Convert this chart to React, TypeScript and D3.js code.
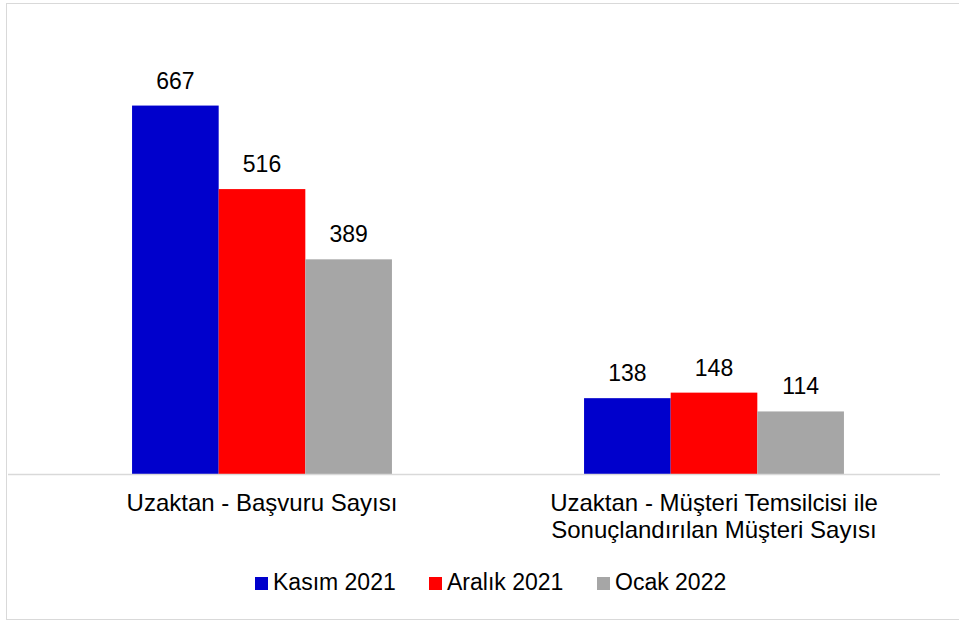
import React from "react";
import * as d3 from "d3";

const categories: string[][] = [
  ["Uzaktan - Başvuru Sayısı"],
  ["Uzaktan - Müşteri Temsilcisi ile", "Sonuçlandırılan Müşteri Sayısı"],
];
const seriesNames = ["Kasım 2021", "Aralık 2021", "Ocak 2022"];
const kasim2021 = [667, 138];
const aralik2021 = [516, 148];
const ocak2022 = [389, 114];
const seriesColors = ["#0000CC", "#FF0000", "#A6A6A6"];

const W = 959;
const H = 620;
const FONT = "'Liberation Sans', Arial, sans-serif";
const FS = 23;
const FS_CAT = 24;

export default function App() {
  const seriesValues = [kasim2021, aralik2021, ocak2022];
  const catKeys = categories.map((_, i) => String(i));
  const x0 = d3
    .scaleBand<string>()
    .domain(catKeys)
    .range([36, 940])
    .paddingInner(0.425)
    .paddingOuter(0.2125);
  const x1 = d3
    .scaleBand<string>()
    .domain(seriesNames)
    .range([0, x0.bandwidth()])
    .padding(0);
  const y = d3.scaleLinear().domain([0, 800]).range([474.5, 32]);

  const legendWidths = [124, 118, 115];
  const legendStart = 255;
  let acc = legendStart;
  const legendX = legendWidths.map((w) => {
    const xx = acc;
    acc += 13 + 5 + w + 32;
    return xx;
  });

  return (
    <div style={{ position: "absolute", left: 0, top: 0 }}>
      <svg width={W} height={H} style={{ display: "block", fontFamily: FONT }}>
        <rect x={0} y={0} width={W} height={H} fill="#fff" />
        <rect x={6.5} y={3.5} width={W} height={616} fill="none" stroke="#D9D9D9" strokeWidth={1} />
        {seriesNames.map((s, si) =>
          seriesValues[si].map((v, ci) => {
            const bx = (x0(catKeys[ci]) ?? 0) + (x1(s) ?? 0);
            return (
              <g key={s + ci}>
                <rect
                  x={bx}
                  y={y(v)}
                  width={x1.bandwidth()}
                  height={y(0) - y(v)}
                  fill={seriesColors[si]}
                />
                <text
                  x={bx + x1.bandwidth() / 2}
                  y={y(v) - 17}
                  textAnchor="middle"
                  fontSize={FS}
                  fill="#000"
                >
                  {v}
                </text>
              </g>
            );
          })
        )}
        <line x1={8} x2={940} y1={y(0)} y2={y(0)} stroke="#D9D9D9" strokeWidth={1.5} />
        {categories.map((lines, ci) => (
          <text
            key={ci}
            x={(x0(catKeys[ci]) ?? 0) + x0.bandwidth() / 2}
            y={511}
            textAnchor="middle"
            fontSize={FS_CAT}
            fill="#000"
          >
            {lines.map((l, li) => (
              <tspan key={li} x={(x0(catKeys[ci]) ?? 0) + x0.bandwidth() / 2} dy={li === 0 ? 0 : 27}>
                {l}
              </tspan>
            ))}
          </text>
        ))}
        {seriesNames.map((s, si) => (
          <g key={s} transform={`translate(${legendX[si]},0)`}>
            <rect x={0} y={577} width={13} height={13} fill={seriesColors[si]} />
            <text x={18} y={590} fontSize={FS} fill="#000">
              {s}
            </text>
          </g>
        ))}
      </svg>
    </div>
  );
}
